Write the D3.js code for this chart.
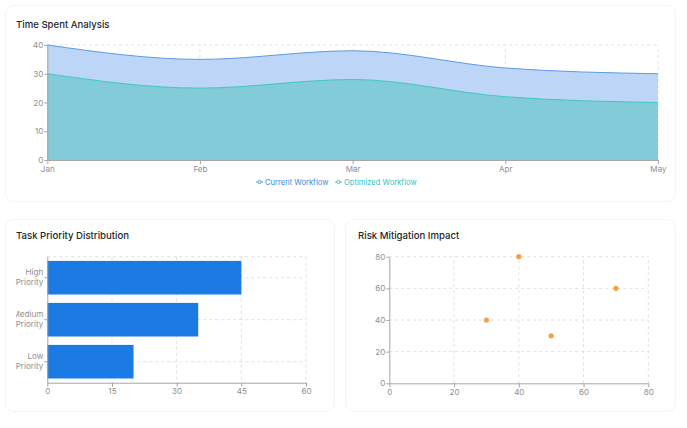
<!DOCTYPE html>
<html lang="en">
<head>
    <meta charset="UTF-8">
    <title>Workflow Dashboard</title>
    <script src="https://d3js.org/d3.v7.min.js"></script>
    <style>
        body { margin: 0; background: #fff; font-family: Inter, "Noto Sans", sans-serif; }
        svg { display: block; }
        .title { font-size: 9.6px; font-weight: 500; fill: #24272b; }
        .axis text { font-size: 8.1px; fill: #8f8f8f; font-family: Inter, sans-serif; }
        .axis path, .axis line { stroke: #a6a6a6; }
        .grid line { stroke: #e0e0e0; stroke-dasharray: 3 3; }
    </style>
</head>
<body>
<svg id="chart" width="687" height="428"></svg>
<script>
    // data
    const months = ["Jan", "Feb", "Mar", "Apr", "May"];
    const currentWorkflow = [40, 35, 38, 32, 30];
    const optimizedWorkflow = [30, 25, 28, 22, 20];
    const timeTicks = [0, 10, 20, 30, 40];

    const priorities = ["High Priority", "Medium Priority", "Low Priority"];
    const priorityCounts = [45, 35, 20];
    const priorityTicks = [0, 15, 30, 45, 60];

    const riskX = [30, 40, 50, 70];
    const riskY = [40, 80, 30, 60];
    const riskTicks = [0, 20, 40, 60, 80];

    const svg = d3.select("#chart");

    // cards
    const cards = [
        { x: 5.5, y: 5.5, w: 670, h: 196 },
        { x: 5.5, y: 219.5, w: 329, h: 192 },
        { x: 345.5, y: 219.5, w: 330, h: 192 }
    ];
    svg.selectAll("rect.card").data(cards).enter().append("rect")
        .attr("class", "card")
        .attr("x", d => d.x).attr("y", d => d.y)
        .attr("width", d => d.w).attr("height", d => d.h)
        .attr("rx", 8)
        .attr("fill", "#fff")
        .attr("stroke", "#f5f5f5");

    // ---------- Time Spent Analysis ----------
    svg.append("text").attr("class", "title").attr("x", 16).attr("y", 28).text("Time Spent Analysis");

    const xTime = d3.scalePoint().domain(months).range([47.3, 658]);
    const yTime = d3.scaleLinear().domain([0, 40]).range([160, 45]);

    const gTop = svg.append("g");
    gTop.append("g").attr("class", "grid")
        .selectAll("line").data(timeTicks.slice(1)).enter().append("line")
        .attr("x1", xTime.range()[0]).attr("x2", xTime.range()[1])
        .attr("y1", d => yTime(d)).attr("y2", d => yTime(d));
    gTop.append("g").attr("class", "grid")
        .selectAll("line").data(months.slice(1)).enter().append("line")
        .attr("x1", d => xTime(d)).attr("x2", d => xTime(d))
        .attr("y1", yTime(0)).attr("y2", yTime(40));

    const series = [
        { name: "Current Workflow", values: currentWorkflow, fill: "#bdd5f6", stroke: "#5b9ae6", text: "#3b88e0" },
        { name: "Optimized Workflow", values: optimizedWorkflow, fill: "#82cbd9", stroke: "#3fc8c0", text: "#36bfc0" }
    ];

    const area = d3.area()
        .x((d, i) => xTime(months[i]))
        .y0(yTime(0))
        .y1(d => yTime(d))
        .curve(d3.curveMonotoneX);
    const line = d3.line()
        .x((d, i) => xTime(months[i]))
        .y(d => yTime(d))
        .curve(d3.curveMonotoneX);

    series.forEach(s => {
        gTop.append("path").datum(s.values).attr("d", area).attr("fill", s.fill);
        gTop.append("path").datum(s.values).attr("d", line)
            .attr("fill", "none").attr("stroke", s.stroke).attr("stroke-width", 1);
    });

    gTop.append("g").attr("class", "axis")
        .attr("transform", `translate(0,${yTime(0)})`)
        .call(d3.axisBottom(xTime).tickSize(4).tickPadding(2).tickSizeOuter(0));
    gTop.append("g").attr("class", "axis")
        .attr("transform", `translate(${xTime.range()[0]},0)`)
        .call(d3.axisLeft(yTime).tickValues(timeTicks).tickSize(3).tickPadding(1).tickSizeOuter(0));

    // legend
    const legendPos = [256, 335];
    const legend = svg.selectAll("g.legend").data(series).enter().append("g")
        .attr("class", "legend")
        .attr("transform", (d, i) => `translate(${legendPos[i]},182)`);
    legend.append("line").attr("x1", 0).attr("x2", 7).attr("y1", 0).attr("y2", 0)
        .attr("stroke", d => d.stroke).attr("stroke-width", 1);
    legend.append("circle").attr("cx", 3.5).attr("cy", 0).attr("r", 1.6)
        .attr("fill", "#fff").attr("stroke", d => d.stroke).attr("stroke-width", 1);
    legend.append("text").attr("x", 9).attr("y", 2.7)
        .attr("font-size", "7.6px").attr("fill", d => d.text)
        .text(d => d.name);

    // ---------- Task Priority Distribution ----------
    svg.append("text").attr("class", "title").attr("x", 16).attr("y", 239).text("Task Priority Distribution");

    svg.append("clipPath").attr("id", "clipLeft")
        .append("rect").attr("x", 16).attr("y", 220).attr("width", 318).attr("height", 190);

    const gBar = svg.append("g").attr("clip-path", "url(#clipLeft)");
    const xBar = d3.scaleLinear().domain([0, 60]).range([47.3, 306]);
    const yBar = d3.scaleBand().domain(priorities).range([256.7, 382.7]).paddingInner(0.2).paddingOuter(0.1);

    gBar.append("g").attr("class", "grid")
        .selectAll("line").data(priorityTicks.slice(1)).enter().append("line")
        .attr("x1", d => xBar(d)).attr("x2", d => xBar(d))
        .attr("y1", yBar.range()[0]).attr("y2", yBar.range()[1]);
    gBar.append("g").attr("class", "grid")
        .selectAll("line").data([null].concat(priorities)).enter().append("line")
        .attr("x1", xBar(0)).attr("x2", xBar(60))
        .attr("y1", d => d === null ? yBar.range()[0] : yBar(d) + yBar.bandwidth() / 2)
        .attr("y2", d => d === null ? yBar.range()[0] : yBar(d) + yBar.bandwidth() / 2);

    gBar.selectAll("rect.bar")
        .data(priorities.map((p, i) => ({ name: p, value: priorityCounts[i] })))
        .enter().append("rect")
        .attr("class", "bar")
        .attr("x", xBar(0))
        .attr("y", d => yBar(d.name))
        .attr("width", d => xBar(d.value) - xBar(0))
        .attr("height", yBar.bandwidth())
        .attr("fill", "#1b7ae3");

    gBar.append("g").attr("class", "axis")
        .attr("transform", `translate(0,${yBar.range()[1]})`)
        .call(d3.axisBottom(xBar).tickValues(priorityTicks).tickSize(4).tickPadding(2).tickSizeOuter(0));
    const yAxisBar = gBar.append("g").attr("class", "axis")
        .attr("transform", `translate(${xBar(0)},0)`)
        .call(d3.axisLeft(yBar).tickSize(3).tickPadding(1).tickSizeOuter(0));
    // wrap the category labels onto two lines
    yAxisBar.selectAll(".tick text").each(function (d) {
        const t = d3.select(this);
        const words = d.split(" ");
        t.text(null).attr("dy", null);
        t.append("tspan").attr("x", -4).attr("dy", "-0.3em").text(words[0]);
        t.append("tspan").attr("x", -4).attr("dy", "1.15em").text(words[1]);
    });

    // ---------- Risk Mitigation Impact ----------
    svg.append("text").attr("class", "title").attr("x", 358).attr("y", 239).text("Risk Mitigation Impact");

    const gRisk = svg.append("g");
    const xRisk = d3.scaleLinear().domain([0, 80]).range([389.3, 648.3]);
    const yRisk = d3.scaleLinear().domain([0, 80]).range([383.3, 256.7]);

    gRisk.append("g").attr("class", "grid")
        .selectAll("line").data(riskTicks.slice(1)).enter().append("line")
        .attr("x1", d => xRisk(d)).attr("x2", d => xRisk(d))
        .attr("y1", yRisk(0)).attr("y2", yRisk(80));
    gRisk.append("g").attr("class", "grid")
        .selectAll("line").data(riskTicks.slice(1)).enter().append("line")
        .attr("x1", xRisk(0)).attr("x2", xRisk(80))
        .attr("y1", d => yRisk(d)).attr("y2", d => yRisk(d));

    gRisk.append("g").attr("class", "axis")
        .attr("transform", `translate(0,${yRisk(0)})`)
        .call(d3.axisBottom(xRisk).tickValues(riskTicks).tickSize(4).tickPadding(2).tickSizeOuter(0));
    gRisk.append("g").attr("class", "axis")
        .attr("transform", `translate(${xRisk(0)},0)`)
        .call(d3.axisLeft(yRisk).tickValues(riskTicks).tickSize(3).tickPadding(1).tickSizeOuter(0));

    gRisk.selectAll("circle.dot")
        .data(riskX.map((x, i) => ({ x: x, y: riskY[i] })))
        .enter().append("circle")
        .attr("class", "dot")
        .attr("cx", d => xRisk(d.x))
        .attr("cy", d => yRisk(d.y))
        .attr("r", 2.6)
        .attr("fill", "#f7a13a");
</script>
</body>
</html>
